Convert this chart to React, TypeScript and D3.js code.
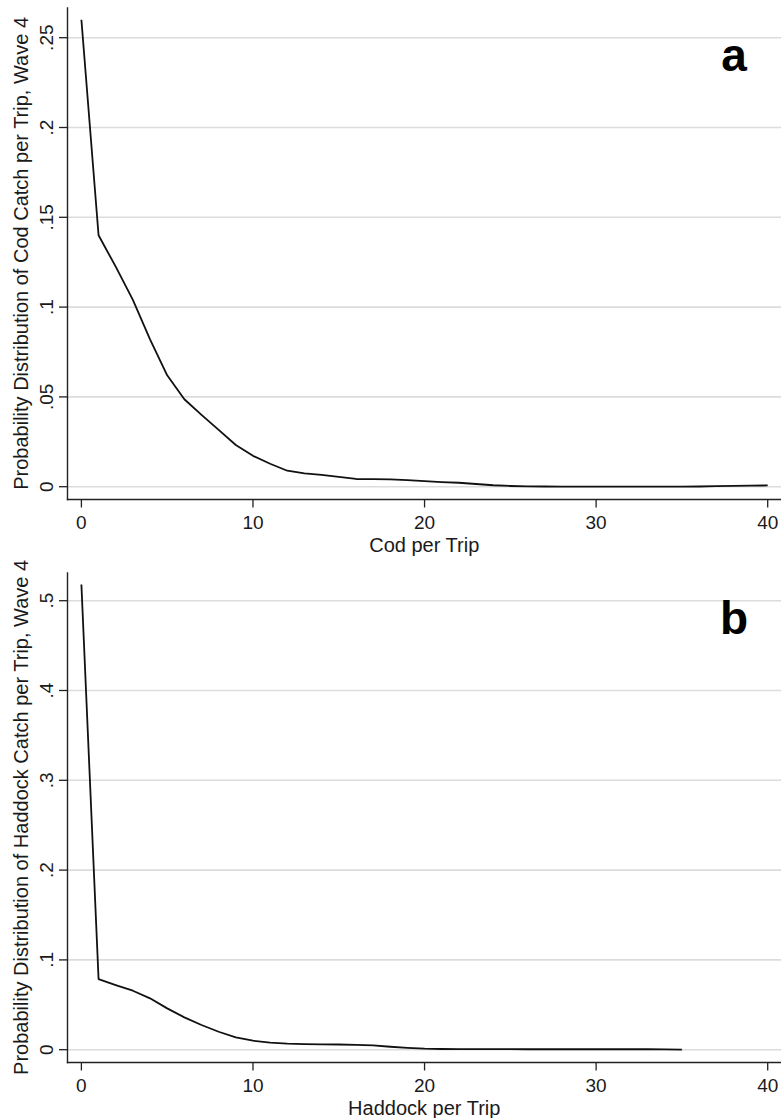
import React from "react";
import * as d3 from "d3";

// ---- Data ----
const codCatch = [0, 1, 2, 3, 4, 5, 6, 7, 8, 9, 10, 11, 12, 13, 14, 15, 16, 17, 18, 19, 20, 21, 22, 23, 24, 25, 26, 27, 28, 29, 30, 31, 32, 33, 34, 35, 36, 37, 38, 39, 40];
const codProb = [0.26, 0.14, 0.1225, 0.104, 0.082, 0.062, 0.0487, 0.04, 0.0316, 0.0232, 0.0172, 0.0128, 0.0089, 0.0074, 0.0066, 0.0055, 0.0043, 0.0042, 0.0041, 0.0037, 0.0031, 0.0026, 0.0022, 0.0015, 0.0008, 0.0004, 0.0002, 0.0001, 0, 0, 0, 0, 0, 0, 0, 0, 0.0001, 0.0003, 0.0005, 0.0006, 0.0007];

const haddockCatch = [0, 1, 2, 3, 4, 5, 6, 7, 8, 9, 10, 11, 12, 13, 14, 15, 16, 17, 18, 19, 20, 21, 22, 23, 24, 25, 26, 27, 28, 29, 30, 31, 32, 33, 34, 35];
const haddockProb = [0.518, 0.0787, 0.072, 0.0657, 0.0572, 0.046, 0.036, 0.0275, 0.02, 0.0138, 0.01, 0.0078, 0.0067, 0.0063, 0.006, 0.0058, 0.0054, 0.0048, 0.0033, 0.002, 0.0011, 0.0008, 0.0007, 0.0007, 0.0007, 0.0006, 0.0005, 0.0005, 0.0005, 0.0005, 0.0005, 0.0005, 0.0005, 0.0005, 0.0003, 0.0001];

const xTicks = [0, 10, 20, 30, 40];
const codYTicks = [0, 0.05, 0.1, 0.15, 0.2, 0.25];
const codYTickLabels = ["0", ".05", ".1", ".15", ".2", ".25"];
const haddockYTicks = [0, 0.1, 0.2, 0.3, 0.4, 0.5];
const haddockYTickLabels = ["0", ".1", ".2", ".3", ".4", ".5"];

const FONT = "'Liberation Sans', Arial, Helvetica, sans-serif";

type PanelProps = {
  offsetY: number;
  plotTop: number;
  xs: number[];
  ys: number[];
  yTicks: number[];
  yTickLabels: string[];
  xTitle: string;
  yTitle: string;
  letter: string;
};

function Panel({ offsetY, plotTop, xs, ys, yTicks, yTickLabels, xTitle, yTitle, letter }: PanelProps) {
  const axisX = 67.5;
  const axisY = 499.5;
  const right = 781;
  const x = d3.scaleLinear().domain([0, 40]).range([81.4, 767.7]);
  const y = d3
    .scaleLinear()
    .domain([0, yTicks[yTicks.length - 1]])
    .range([486.7, 37.7]);
  const line = d3
    .line<number>()
    .x((_, i) => x(xs[i]))
    .y((d) => y(d));
  const titleCenterY = (plotTop + axisY) / 2;

  return (
    <g transform={`translate(0,${offsetY})`}>
      {/* gridlines */}
      {yTicks.map((t) => (
        <line key={"g" + t} x1={axisX} x2={right} y1={y(t)} y2={y(t)} stroke="#dcdcdc" strokeWidth={1.6} />
      ))}
      {/* data line */}
      <path d={line(ys) || ""} fill="none" stroke="#111" strokeWidth={1.8} strokeLinejoin="round" />
      {/* y axis */}
      <line x1={axisX} x2={axisX} y1={plotTop} y2={axisY + 0.7} stroke="#222" strokeWidth={1.4} />
      {yTicks.map((t, i) => (
        <g key={"y" + t}>
          <line x1={axisX - 8.5} x2={axisX} y1={y(t)} y2={y(t)} stroke="#222" strokeWidth={1.3} />
          <text
            transform={`translate(53,${y(t)}) rotate(-90)`}
            textAnchor="middle"
            fontFamily={FONT}
            fontSize={19}
            fill="#1a1a1a"
          >
            {yTickLabels[i]}
          </text>
        </g>
      ))}
      {/* x axis */}
      <line x1={axisX - 0.7} x2={right} y1={axisY} y2={axisY} stroke="#222" strokeWidth={1.4} />
      {xTicks.map((t) => (
        <g key={"x" + t}>
          <line x1={x(t)} x2={x(t)} y1={axisY} y2={axisY + 8} stroke="#222" strokeWidth={1.3} />
          <text x={x(t)} y={axisY + 29.5} textAnchor="middle" fontFamily={FONT} fontSize={19} fill="#1a1a1a">
            {t}
          </text>
        </g>
      ))}
      {/* titles */}
      <text x={(axisX + right) / 2} y={axisY + 52} textAnchor="middle" fontFamily={FONT} fontSize={20} fill="#1a1a1a">
        {xTitle}
      </text>
      <text
        transform={`translate(28,${titleCenterY}) rotate(-90)`}
        textAnchor="middle"
        fontFamily={FONT}
        fontSize={20}
        fill="#1a1a1a"
      >
        {yTitle}
      </text>
      <text x={734} y={70.7} textAnchor="middle" fontFamily={FONT} fontSize={46} fontWeight="bold" fill="#000">
        {letter}
      </text>
    </g>
  );
}

export default function App() {
  return (
    <svg
      width={781}
      height={1118}
      viewBox="0 0 781 1118"
      style={{ position: "absolute", left: 0, top: 0, background: "#fff" }}
    >
      <rect width={781} height={1118} fill="#fff" />
      <Panel
        offsetY={0}
        plotTop={7.3}
        xs={codCatch}
        ys={codProb}
        yTicks={codYTicks}
        yTickLabels={codYTickLabels}
        xTitle="Cod per Trip"
        yTitle="Probability Distribution of Cod Catch per Trip, Wave 4"
        letter="a"
      />
      <Panel
        offsetY={563}
        plotTop={9.3}
        xs={haddockCatch}
        ys={haddockProb}
        yTicks={haddockYTicks}
        yTickLabels={haddockYTickLabels}
        xTitle="Haddock per Trip"
        yTitle="Probability Distribution of Haddock Catch per Trip, Wave 4"
        letter="b"
      />
    </svg>
  );
}
